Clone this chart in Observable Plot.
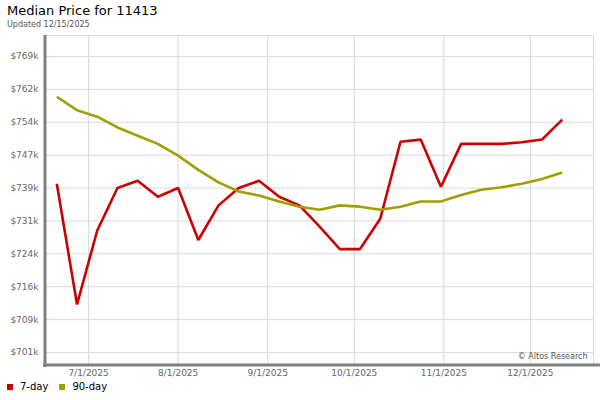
<!DOCTYPE html>
<html>
<head>
<meta charset="utf-8">
<script src="https://cdn.jsdelivr.net/npm/d3@7"></script>
<script src="https://cdn.jsdelivr.net/npm/@observablehq/plot@0.6"></script>
<style>
  body { margin: 0; width: 600px; height: 400px; position: relative; font-family: "DejaVu Sans", sans-serif; background: #fff; overflow: hidden; }
  #title { position: absolute; left: 7px; top: 3px; font-size: 13px; color: #000; white-space: nowrap; }
  #sub { position: absolute; left: 7px; top: 20px; font-size: 8px; color: #555; white-space: nowrap; }
  #chart { position: absolute; left: 0; top: 30px; }
  #legend { position: absolute; left: 7px; top: 381px; font-size: 10px; color: #000; display: flex; align-items: center; white-space: nowrap; }
  .sw { display: inline-block; width: 6px; height: 6px; margin-right: 7px; }
  .item { display: flex; align-items: center; margin-right: 11px; }
</style>
</head>
<body>
<div id="title">Median Price for 11413</div>
<div id="sub">Updated 12/15/2025</div>
<div id="chart"></div>
<div id="legend"></div>
<script>
const dates = ["2025-06-20","2025-06-27","2025-07-04","2025-07-11","2025-07-18","2025-07-25",
  "2025-08-01","2025-08-08","2025-08-15","2025-08-22","2025-08-29","2025-09-05","2025-09-12",
  "2025-09-19","2025-09-26","2025-10-03","2025-10-10","2025-10-17","2025-10-24","2025-10-31",
  "2025-11-07","2025-11-14","2025-11-21","2025-11-28","2025-12-05","2025-12-12"];
const sevenDay = [740.0, 712.1, 729.2, 739.0, 740.7, 737.0, 739.0, 727.0, 735.0, 739.0, 740.7, 737.0, 735.0,
  730.1, 724.9, 724.9, 731.9, 749.7, 750.2, 739.3, 749.2, 749.2, 749.2, 749.6, 750.2, 754.8];
const ninetyDay = [760.1, 757.0, 755.5, 753.0, 751.1, 749.2, 746.5, 743.2, 740.3, 738.2, 737.3, 735.9, 734.7,
  734.0, 735.0, 734.7, 734.0, 734.7, 735.9, 735.9, 737.4, 738.6, 739.2, 740.0, 741.1, 742.6];
const seriesNames = ["7-day", "90-day"];
const seriesColors = ["#cc0000", "#a39e00"];
const yTicks = [701, 708.6, 716.2, 723.8, 731.4, 739, 746.6, 754.2, 761.8, 769.4];
const yTickLabels = ["$701k","$709k","$716k","$724k","$731k","$739k","$747k","$754k","$762k","$769k"];
const xTicks = ["2025-07-01","2025-08-01","2025-09-01","2025-10-01","2025-11-01","2025-12-01"];
const xTickLabels = ["7/1/2025","8/1/2025","9/1/2025","10/1/2025","11/1/2025","12/1/2025"];
const credit = "© Altos Research";

const parse = d3.utcParse("%Y-%m-%d");
const rows = [];
dates.forEach((d, i) => {
  rows.push({date: parse(d), value: sevenDay[i], series: seriesNames[0]});
  rows.push({date: parse(d), value: ninetyDay[i], series: seriesNames[1]});
});
const xDomain = [new Date(Date.UTC(2025, 5, 16, 2)), new Date(Date.UTC(2025, 11, 22, 20))];
const yDomain = [698.23, 774.25];
const xTickDates = xTicks.map(parse);
const yLabel = new Map(yTicks.map((t, i) => [t, yTickLabels[i]]));
const xLabel = new Map(xTickDates.map((t, i) => [+t, xTickLabels[i]]));

const chart = Plot.plot({
  width: 600,
  height: 350,
  marginLeft: 45,
  marginRight: 7,
  marginTop: 5,
  marginBottom: 16,
  style: {fontFamily: "DejaVu Sans, sans-serif", fontSize: "9px", background: "transparent"},
  x: {type: "utc", domain: xDomain, label: null},
  y: {domain: yDomain, label: null},
  color: {domain: seriesNames, range: seriesColors},
  marks: [
    Plot.gridY(yTicks, {stroke: "#d9d9d9", strokeOpacity: 1, strokeWidth: 1}),
    Plot.gridX(xTickDates, {stroke: "#d9d9d9", strokeOpacity: 1, strokeWidth: 1}),
    Plot.frame({stroke: "#d9d9d9"}),
    Plot.axisY(yTicks, {tickSize: 0, tickPadding: 7, tickFormat: d => yLabel.get(d), fill: "#666", fontSize: 9, label: null}),
    Plot.axisX(xTickDates, {tickSize: 0, tickPadding: 5, tickFormat: d => xLabel.get(+d), fill: "#666", fontSize: 9, label: null}),
    Plot.line(rows, {x: "date", y: "value", z: "series", stroke: "series", strokeWidth: 2.6, strokeLinejoin: "miter", strokeLinecap: "butt"}),
    Plot.text([credit], {frameAnchor: "bottom-right", dx: -6, dy: -6, fontSize: 8, fill: "#555"}),
    Plot.ruleX([xDomain[0]], {stroke: "#808080", strokeWidth: 3, dx: -0.5, insetBottom: -3}),
    Plot.ruleY([yDomain[0]], {stroke: "#808080", strokeWidth: 3, dy: 0.5, insetLeft: -2, insetRight: -7})
  ]
});
document.getElementById("chart").appendChild(chart);

const legend = document.getElementById("legend");
seriesNames.forEach((name, i) => {
  const item = document.createElement("span");
  item.className = "item";
  const sw = document.createElement("span");
  sw.className = "sw";
  sw.style.background = seriesColors[i];
  item.appendChild(sw);
  item.appendChild(document.createTextNode(name));
  legend.appendChild(item);
});
</script>
</body>
</html>
